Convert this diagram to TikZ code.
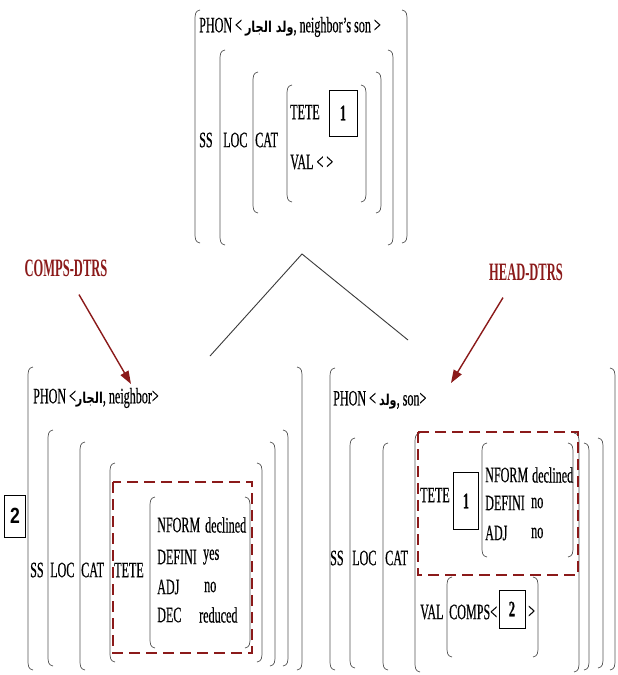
\documentclass[tikz,border=0pt]{standalone}
\usepackage{fontspec}
\setmainfont[FakeStretch=0.55, FakeBold=0.4]{Liberation Serif}
\newfontfamily\dtrsfont[FakeStretch=0.5]{Liberation Serif}
\newfontfamily\arabicfont[Script=Arabic,FakeStretch=0.75]{DejaVu Sans}
\newfontfamily\boxsans[FakeStretch=0.8]{Liberation Sans}
\usetikzlibrary{arrows.meta, positioning}
\TeXXeTstate=1
\definecolor{dtrsred}{HTML}{8B1A1A}
\definecolor{brkgray}{HTML}{555555}
\definecolor{treegray}{HTML}{3a3a3a}
\newcommand{\avm}{\fontsize{22}{24}\selectfont}
\newcommand{\arab}[1]{{\arabicfont\bfseries\fontsize{15}{17}\selectfont\beginR #1\endR}}
% round brackets of the feature structures: x, top, bottom
\newcommand{\lbrk}[3]{\draw[brk] ({#1+5},#2) .. controls (#1,{#2+1}) and (#1,{#2+4}) .. (#1,{#2+12}) -- (#1,{#3-12}) .. controls (#1,{#3-4}) and (#1,{#3-1}) .. ({#1+5},#3);}
\newcommand{\rbrk}[3]{\draw[brk] ({#1-5},#2) .. controls (#1,{#2+1}) and (#1,{#2+4}) .. (#1,{#2+12}) -- (#1,{#3-12}) .. controls (#1,{#3-4}) and (#1,{#3-1}) .. ({#1-5},#3);}

\begin{document}
\begin{tikzpicture}[x=1pt, y=-1pt,
    brk/.style={draw=brkgray, line width=0.7pt},
    lbl/.style={anchor=west, inner sep=0pt, font=\avm},
    idx/.style={draw, line width=0.8pt, inner sep=0pt, font=\avm\bfseries},
    tree/.style={draw=treegray, line width=0.9pt},
    dtrslbl/.style={inner sep=0pt, text=dtrsred, font=\dtrsfont\fontsize{25}{27}\selectfont\bfseries},
    dtrsarrow/.style={draw=dtrsred, line width=1.4pt, -{Triangle[length=13pt, width=9pt]}},
    dtrsdash/.style={draw=dtrsred, line width=2.2pt, dash pattern=on 11pt off 6pt}]
  \useasboundingbox[fill=white] (0,0) rectangle (618,675);

  % mother
  \lbrk{195}{10}{243} \rbrk{407}{10}{243}
  \lbrk{220}{50}{245} \rbrk{393}{50}{245}
  \lbrk{253}{72}{213} \rbrk{381}{72}{213}
  \lbrk{287}{85}{202} \rbrk{366}{85}{202}
  \node[lbl] (phontop) at (199,27) {PHON < \arab{ولد الجار}, neighbor’s son >};
  \node[lbl] (sstop) at (199,140) {SS};
  \node[lbl] (loctop) at (223,140) {LOC};
  \node[lbl] (cattop) at (255,140) {CAT};
  \node[lbl] (tetetop) at (290,112) {TETE};
  \node[idx, minimum width=28pt, minimum height=46pt] (onetop) at (343,113) {1};
  \node[lbl] (valtop) at (290,162) {VAL < >};

  % branches
  \coordinate (apex) at (302,254);
  \coordinate (leftleg) at (210,356);
  \coordinate (rightleg) at (408,340);
  \draw[tree] (leftleg) -- (apex) -- (rightleg);

  % daughter labels
  \node[dtrslbl] (compsdtrs) at (66,268) {COMPS-DTRS};
  \coordinate (compstip) at (131,384);
  \draw[dtrsarrow] ([shift={(13,18)}]compsdtrs.south) -- (compstip);
  \node[dtrslbl] (headdtrs) at (526,272) {HEAD-DTRS};
  \coordinate (headtip) at (451,383);
  \draw[dtrsarrow] ([shift={(-23,17)}]headdtrs.south) -- (headtip);

  % complement daughter
  \node[draw, line width=0.8pt, inner sep=0pt, minimum width=21pt, minimum height=42pt,
        font=\boxsans\fontsize{22}{24}\selectfont\bfseries] (twoleft) at (15,516) {2};
  \lbrk{28}{367}{670} \rbrk{302}{367}{670}
  \lbrk{48}{430}{666} \rbrk{288}{430}{666}
  \lbrk{80}{442}{670} \rbrk{275}{442}{666}
  \lbrk{110}{463}{662} \rbrk{262}{463}{662}
  \lbrk{150}{497}{648} \rbrk{250}{497}{648}
  \node[lbl] (phonleft) at (33,398) {PHON <\arab{الجار}, neighbor>};
  \node[lbl] (ssleft) at (30,570) {SS};
  \node[lbl] (locleft) at (50,570) {LOC};
  \node[lbl] (catleft) at (81,570) {CAT};
  \node[lbl] (teteleft) at (114,570) {TETE};
  \node[lbl] (nformleft) at (157,525) {NFORM};
  \node[lbl] (defleft) at (157,557) {DEFINI};
  \node[lbl] (adjleft) at (157,587) {ADJ};
  \node[lbl] (decleft) at (157,615) {DEC};
  \node[lbl] at (205,525) {declined};
  \node[lbl] at (203,557) {yes};
  \node[lbl] at (204,587) {no};
  \node[lbl] at (199,615) {reduced};
  \draw[dtrsdash] (113,482) rectangle (252,653);

  % head daughter
  \lbrk{330}{368}{670} \rbrk{615}{368}{670}
  \lbrk{350}{438}{668} \rbrk{603}{438}{668}
  \lbrk{383}{443}{670} \rbrk{589}{443}{670}
  \lbrk{415}{433}{672} \rbrk{579}{433}{672}
  \lbrk{482}{443}{557} \rbrk{573}{443}{557}
  \lbrk{447}{577}{657} \rbrk{538}{577}{657}
  \node[lbl] (phonright) at (333,400) {PHON < \arab{ولد}, son>};
  \node[lbl] (ssright) at (330,558) {SS};
  \node[lbl] (locright) at (352,558) {LOC};
  \node[lbl] (catright) at (385,558) {CAT};
  \node[lbl] (teteright) at (420,495) {TETE};
  \node[idx, minimum width=25pt, minimum height=57pt] (oneright) at (466,501) {1};
  \node[lbl] (nformright) at (485,475) {NFORM};
  \node[lbl] (defright) at (485,503) {DEFINI};
  \node[lbl] (adjright) at (485,533) {ADJ};
  \node[lbl] at (532,475) {declined};
  \node[lbl] at (531,503) {no};
  \node[lbl] at (531,533) {no};
  \draw[dtrsdash] (418,432) rectangle (578,575);
  \node[lbl] (valright) at (420,612) {VAL};
  \node[lbl] (compsright) at (449,612) {COMPS<};
  \node[idx, minimum width=26pt, minimum height=38pt] (tworight) at (512,609) {2};
  \node[lbl] (closeright) at (528,612) {>};
\end{tikzpicture}
\end{document}
